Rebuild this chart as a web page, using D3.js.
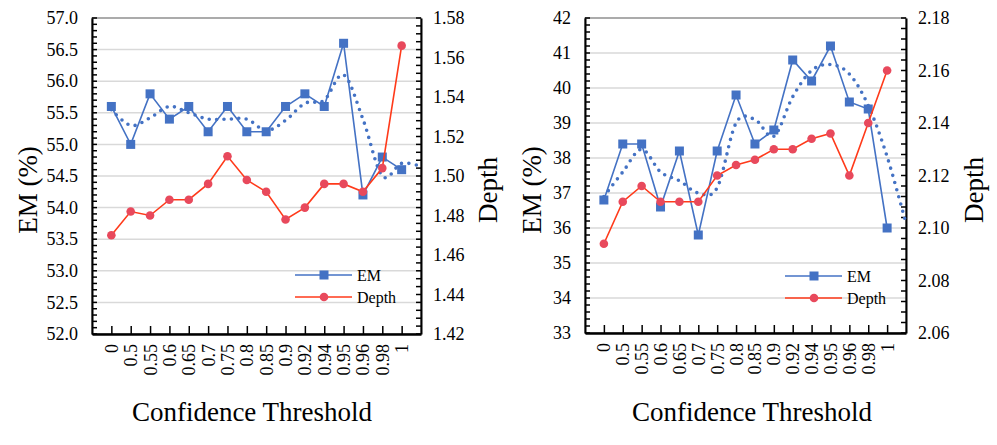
<!DOCTYPE html>
<html>
<head>
	<script src="https://cdn.jsdelivr.net/npm/d3@7/dist/d3.min.js"></script>
	<style>
		html, body {
			padding: 0;
			margin: 0;
			background: white;
		}
		text {
			font-family: "Liberation Serif", "Times New Roman", serif;
			fill: #000;
		}
	</style>
</head>
<body>
	<script>
		var width = 997, height = 445;

		//////// DATA ////////
		var categories = ["0", "0.5", "0.55", "0.6", "0.65", "0.7", "0.75", "0.8", "0.85", "0.9", "0.92", "0.94", "0.95", "0.96", "0.98", "1"];

		// left panel
		var leftEM = [55.6, 55.0, 55.8, 55.4, 55.6, 55.2, 55.6, 55.2, 55.2, 55.6, 55.8, 55.6, 56.6, 54.2, 54.8, 54.6];
		var leftDepth = [1.470, 1.482, 1.480, 1.488, 1.488, 1.496, 1.510, 1.498, 1.492, 1.478, 1.484, 1.496, 1.496, 1.492, 1.504, 1.566];
		// dotted trend line, one value per category plus one at the right edge
		var leftTrend = [55.55, 55.3, 55.42, 55.6, 55.5, 55.4, 55.4, 55.4, 55.22, 55.38, 55.65, 55.7, 56.1, 55.4, 54.5, 54.7, 54.65];
		var leftEMTicks = [52.0, 52.5, 53.0, 53.5, 54.0, 54.5, 55.0, 55.5, 56.0, 56.5, 57.0];
		var leftDepthTicks = [1.42, 1.44, 1.46, 1.48, 1.50, 1.52, 1.54, 1.56, 1.58];

		// right panel
		var rightEM = [36.8, 38.4, 38.4, 36.6, 38.2, 35.8, 38.2, 39.8, 38.4, 38.8, 40.8, 40.2, 41.2, 39.6, 39.4, 36.0];
		var rightDepth = [2.094, 2.110, 2.116, 2.110, 2.110, 2.110, 2.120, 2.124, 2.126, 2.130, 2.130, 2.134, 2.136, 2.120, 2.140, 2.160];
		var rightTrend = [36.9, 37.6, 38.25, 37.6, 37.35, 37.0, 37.15, 39.0, 39.1, 38.62, 39.75, 40.5, 40.67, 40.4, 39.5, 38.04, 36.13];
		var rightEMTicks = [33, 34, 35, 36, 37, 38, 39, 40, 41, 42];
		var rightDepthTicks = [2.06, 2.08, 2.10, 2.12, 2.14, 2.16, 2.18];

		var blue = "#4472c4", red = "#ff3a1a", pink = "#e8495c";

		var svg = d3.select("body").append("svg")
			.attr("width", width)
			.attr("height", height)
			.style("background-color", "white");

		function drawPanel(p) {
			var g = svg.append("g");

			var x = d3.scalePoint().domain(categories).range([p.left, p.right]).padding(1);
			var yL = d3.scaleLinear().domain(d3.extent(p.emTicks)).range([p.bottom, p.top]);
			var yR = d3.scaleLinear().domain(d3.extent(p.depthTicks)).range([p.bottom, p.top]);
			var step = x.step();

			// gridlines
			g.append("g").selectAll("line")
				.data(p.emTicks.slice(1, -1))
				.join("line")
				.attr("x1", p.left).attr("x2", p.right)
				.attr("y1", d => yL(d)).attr("y2", d => yL(d))
				.attr("stroke", "#d9d9d9")
				.attr("stroke-width", 1.5);

			// plot border
			g.append("rect")
				.attr("x", p.left).attr("y", p.top)
				.attr("width", p.right - p.left).attr("height", p.bottom - p.top)
				.attr("fill", "none")
				.attr("stroke", "#595959")
				.attr("stroke-width", 1);

			// left axis
			var minorL = (p.emTicks[1] - p.emTicks[0]) / 5;
			var axL = d3.axisLeft(yL).tickValues(p.emTicks).tickFormat(d3.format(p.emFmt))
				.tickSize(0).tickPadding(14);
			var gL = g.append("g").attr("transform", "translate(" + p.left + ",0)").call(axL);
			gL.select(".domain").attr("stroke", "#000").attr("stroke-width", 2);
			gL.selectAll("text").style("font-size", "18px").style("font-family", "Liberation Serif");
			gL.selectAll(".minor").data(d3.range(yL.domain()[0], yL.domain()[1] + minorL / 2, minorL))
				.join("line").attr("class", "minor")
				.attr("x1", 0).attr("x2", 5)
				.attr("y1", d => yL(d)).attr("y2", d => yL(d))
				.attr("stroke", "#000").attr("stroke-width", 1.5);

			// right axis
			var minorR = (p.depthTicks[1] - p.depthTicks[0]) / 5;
			var axR = d3.axisRight(yR).tickValues(p.depthTicks).tickFormat(d3.format(".2f"))
				.tickSize(0).tickPadding(12);
			var gR = g.append("g").attr("transform", "translate(" + p.right + ",0)").call(axR);
			gR.select(".domain").attr("stroke", "#000").attr("stroke-width", 2);
			gR.selectAll("text").style("font-size", "18px").style("font-family", "Liberation Serif");
			gR.selectAll(".minor").data(d3.range(yR.domain()[0], yR.domain()[1] + minorR / 2, minorR))
				.join("line").attr("class", "minor")
				.attr("x1", -5).attr("x2", 0)
				.attr("y1", d => yR(d)).attr("y2", d => yR(d))
				.attr("stroke", "#000").attr("stroke-width", 1.5);

			// bottom axis
			var axB = d3.axisBottom(x).tickSize(-8).tickSizeOuter(0).tickPadding(0);
			var gB = g.append("g").attr("transform", "translate(0," + p.bottom + ")").call(axB);
			gB.select(".domain").attr("stroke", "#000").attr("stroke-width", 2.5);
			gB.selectAll(".tick line").attr("stroke", "#000").attr("stroke-width", 1.5);
			gB.selectAll("text")
				.style("font-size", "18px").style("font-family", "Liberation Serif")
				.attr("text-anchor", "end")
				.attr("transform", "translate(0,10) rotate(-90)")
				.attr("x", 0).attr("y", 0).attr("dy", "0.33em");

			// EM dotted trend
			var trendLine = d3.line()
				.x((d, i) => i < categories.length ? x(categories[i]) : x(categories[categories.length - 1]) + step)
				.y(d => yL(d))
				.curve(d3.curveCatmullRom.alpha(0));
			g.append("path")
				.datum(p.trend)
				.attr("d", trendLine)
				.attr("fill", "none")
				.attr("stroke", blue)
				.attr("stroke-width", 3.6)
				.attr("stroke-linecap", "round")
				.attr("stroke-dasharray", "0 7.4");

			// EM line
			var emLine = d3.line().x((d, i) => x(categories[i])).y(d => yL(d));
			g.append("path").datum(p.em).attr("d", emLine)
				.attr("fill", "none").attr("stroke", blue).attr("stroke-width", 1.6);
			g.append("g").selectAll("rect").data(p.em).join("rect")
				.attr("x", (d, i) => x(categories[i]) - 4.5)
				.attr("y", d => yL(d) - 4.5)
				.attr("width", 9).attr("height", 9)
				.attr("fill", blue);

			// Depth line
			var depthLine = d3.line().x((d, i) => x(categories[i])).y(d => yR(d));
			g.append("path").datum(p.depth).attr("d", depthLine)
				.attr("fill", "none").attr("stroke", red).attr("stroke-width", 1.6);
			g.append("g").selectAll("circle").data(p.depth).join("circle")
				.attr("cx", (d, i) => x(categories[i]))
				.attr("cy", d => yR(d))
				.attr("r", 4.3)
				.attr("fill", pink);

			// legend
			var lg = g.append("g").attr("transform", "translate(" + p.legendX + "," + p.legendY + ")");
			lg.append("line").attr("x1", 0).attr("x2", 57).attr("y1", 0).attr("y2", 0)
				.attr("stroke", blue).attr("stroke-width", 1.6);
			lg.append("rect").attr("x", 29 - 4.5).attr("y", -4.5).attr("width", 9).attr("height", 9).attr("fill", blue);
			lg.append("text").attr("x", 62).attr("y", 6).style("font-size", "16px").text("EM");
			lg.append("line").attr("x1", 0).attr("x2", 57).attr("y1", 22).attr("y2", 22)
				.attr("stroke", red).attr("stroke-width", 1.6);
			lg.append("circle").attr("cx", 29).attr("cy", 22).attr("r", 4.3).attr("fill", pink);
			lg.append("text").attr("x", 62).attr("y", 28).style("font-size", "16px").text("Depth");

			// axis titles
			g.append("text")
				.attr("transform", "translate(" + p.emTitleX + ",190) rotate(-90)")
				.attr("text-anchor", "middle")
				.style("font-size", "27px")
				.text("EM (%)");
			g.append("text")
				.attr("transform", "translate(" + p.depthTitleX + ",190) rotate(-90)")
				.attr("text-anchor", "middle")
				.style("font-size", "27px")
				.text("Depth");
			g.append("text")
				.attr("x", p.xTitleX).attr("y", 421)
				.attr("text-anchor", "middle")
				.style("font-size", "27px")
				.text("Confidence Threshold");
		}

		drawPanel({
			left: 92, right: 421, top: 18, bottom: 334,
			em: leftEM, depth: leftDepth, trend: leftTrend,
			emTicks: leftEMTicks, depthTicks: leftDepthTicks, emFmt: ".1f",
			legendX: 295, legendY: 275,
			emTitleX: 37, depthTitleX: 497, xTitleX: 252
		});

		drawPanel({
			left: 585, right: 906, top: 18, bottom: 333,
			em: rightEM, depth: rightDepth, trend: rightTrend,
			emTicks: rightEMTicks, depthTicks: rightDepthTicks, emFmt: "d",
			legendX: 785, legendY: 276,
			emTitleX: 541, depthTitleX: 983, xTitleX: 752
		});
	</script>
</body>
</html>
